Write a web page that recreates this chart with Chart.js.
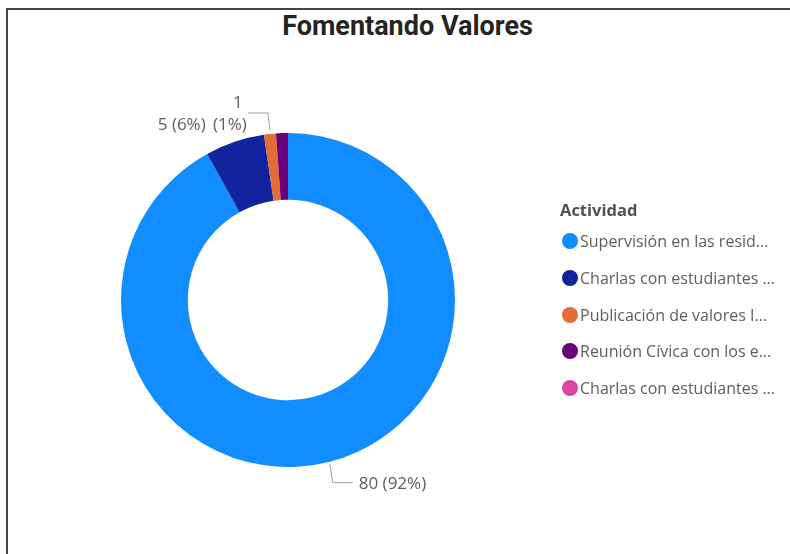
<!DOCTYPE html>
<html>
<head>
<meta charset="utf-8">
<script src="https://cdn.jsdelivr.net/npm/chart.js@4.4.0/dist/chart.umd.min.js"></script>
<style>
    body { margin: 0; background: #fff; }
    #wrap { position: relative; width: 790px; height: 554px; overflow: hidden; }
    #frame {
        position: absolute; left: 6px; top: 8px; right: -4px; bottom: -4px;
        border-left: 2px solid #444; border-top: 2px solid #444;
    }
    #title {
        position: absolute; left: 0; width: 815px; top: 13px; text-align: center;
        font: bold 27px/1 Roboto, sans-serif; color: #252423;
    }
    #chart { position: absolute; left: 0; top: 0; }
    #legend { position: absolute; left: 560px; top: 198px; font-family: "Open Sans", sans-serif; }
    .legend-title { font-size: 16.5px; font-weight: bold; color: #505050; margin-bottom: 7px; height: 24px; line-height: 24px; }
    .legend-item { height: 36.8px; line-height: 24px; font-size: 16px; color: #605E5C; white-space: nowrap; display: flex; align-items: flex-start; }
    .dot { width: 16px; height: 16px; border-radius: 50%; margin: 4px 2px 0 2px; flex: none; }
</style>
</head>
<body>
<div id="wrap">
    <div id="frame"></div>
    <div id="title">Fomentando Valores</div>
    <canvas id="chart" width="790" height="554"></canvas>
    <div id="legend"></div>
</div>
<script>
// Data
const legendTitle = 'Actividad';
const categories = [
    'Supervisión en las resid...',
    'Charlas con estudiantes ...',
    'Publicación de valores I...',
    'Reunión Cívica con los e...',
    'Charlas con estudiantes ...'
];
const values = [80, 5, 1, 1, 0];
const colors = ['#118DFF', '#12239E', '#E66C37', '#6B007B', '#E044A7'];

// Data labels in Power BI style (label for the purple slice is hidden, as in the original)
const labelPlugin = {
    id: 'sliceLabels',
    afterDatasetsDraw(chart) {
        const ctx = chart.ctx;
        const meta = chart.getDatasetMeta(0);
        const total = values.reduce((a, b) => a + b, 0);
        ctx.save();
        ctx.font = '17px "Open Sans", sans-serif';
        ctx.fillStyle = '#605E5C';
        ctx.strokeStyle = '#A0A0A0';
        ctx.lineWidth = 1;
        meta.data.forEach((arc, i) => {
            if (values[i] === 0 || i === 3) return;
            const mid = (arc.startAngle + arc.endAngle) / 2;
            const x = arc.x + Math.cos(mid) * arc.outerRadius;
            const y = arc.y + Math.sin(mid) * arc.outerRadius;
            const pct = Math.round(values[i] / total * 100);
            const text = values[i] + ' (' + pct + '%)';
            ctx.textBaseline = 'middle';
            if (i === 0) {
                ctx.beginPath();
                ctx.moveTo(x, y + 2);
                ctx.lineTo(x + 3, y + 21);
                ctx.lineTo(x + 23, y + 21);
                ctx.stroke();
                ctx.textAlign = 'left';
                ctx.fillText(text, x + 29, y + 22);
            } else if (i === 1) {
                ctx.textAlign = 'right';
                ctx.fillText(text, x - 29, y - 17);
            } else {
                ctx.beginPath();
                ctx.moveTo(x, y - 4);
                ctx.lineTo(x - 2, y - 21);
                ctx.lineTo(x - 22, y - 21);
                ctx.stroke();
                ctx.textAlign = 'center';
                ctx.fillText(String(values[i]), x - 32, y - 31);
                ctx.fillText('(' + pct + '%)', x - 40, y - 9);
            }
        });
        ctx.restore();
    }
};

new Chart(document.getElementById('chart'), {
    type: 'doughnut',
    data: {
        labels: categories,
        datasets: [{
            data: values,
            backgroundColor: colors,
            borderWidth: 0
        }]
    },
    options: {
        responsive: false,
        animation: false,
        cutout: '60%',
        layout: { padding: { left: 121, right: 335, top: 133, bottom: 87 } },
        plugins: {
            legend: { display: false },
            tooltip: { enabled: false }
        }
    },
    plugins: [labelPlugin]
});

// Legend
const legend = document.getElementById('legend');
legend.innerHTML = '<div class="legend-title">' + legendTitle + '</div>';
categories.forEach((name, i) => {
    legend.innerHTML += `
        <div class="legend-item">
            <div class="dot" style="background:${colors[i]}"></div>
            <span>${name}</span>
        </div>`;
});
</script>
</body>
</html>
